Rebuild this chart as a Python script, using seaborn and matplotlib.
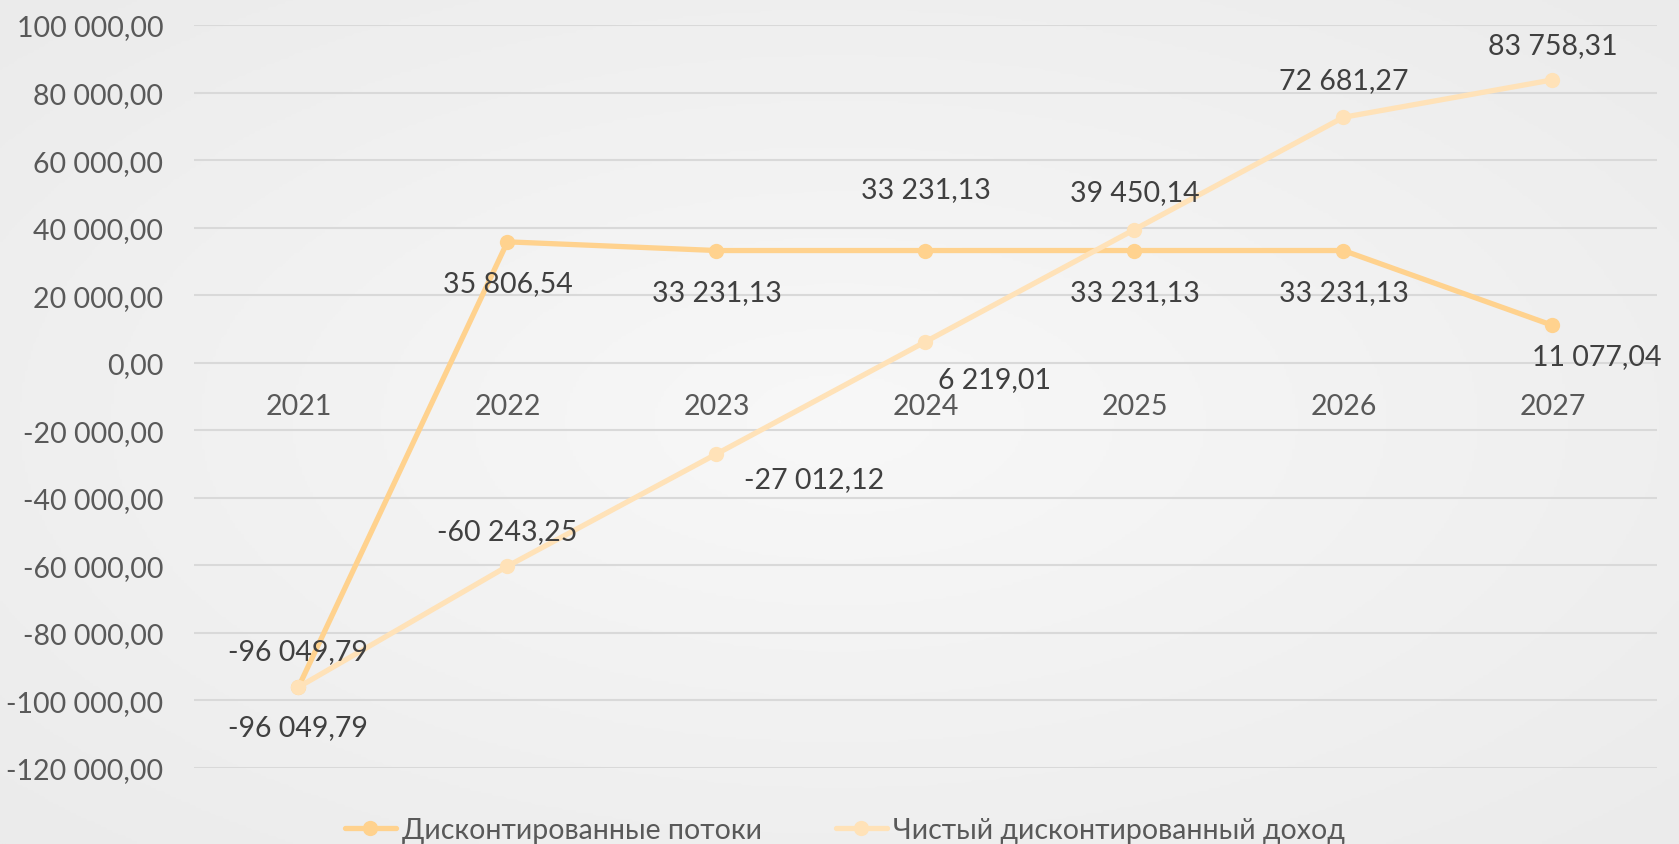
"""Discounted cash flows vs. net discounted income, 2021-2027."""
import numpy as np
import pandas as pd
import seaborn as sns
import matplotlib.pyplot as plt
from matplotlib.colors import LinearSegmentedColormap

YEARS = ["2021", "2022", "2023", "2024", "2025", "2026", "2027"]
SERIES_NAMES = ["Дисконтированные потоки", "Чистый дисконтированный доход"]
DISC_FLOWS = [-96049.79, 35806.54, 33231.13, 33231.13, 33231.13, 33231.13, 11077.04]
NET_INCOME = [-96049.79, -60243.25, -27012.12, 6219.01, 39450.14, 72681.27, 83758.31]
Y_TICKS = list(range(-120000, 100001, 20000))

# label offsets (points) for each data label, as placed in the original
OFFSETS_FLOWS = [(0, 26), (0, -30), (0, -30), (0, 44), (0, -30), (0, -30), (32, -22)]
OFFSETS_INCOME = [(0, -29), (0, 25), (70, -18), (50, -27), (0, 27), (0, 27), (0, 25)]

COLORS = ["#FFD28E", "#FFE2B8"]
FONT = ["Lato", "Open Sans", "DejaVu Sans"]
FS = 20.5


def fmt(v):
    return f"{v:,.2f}".replace(",", " ").replace(".", ",")


sns.set_style("white")
plt.rcParams["font.family"] = FONT

df = pd.DataFrame({
    "year": YEARS * 2,
    "value": DISC_FLOWS + NET_INCOME,
    "series": [SERIES_NAMES[0]] * len(YEARS) + [SERIES_NAMES[1]] * len(YEARS),
})

fig = plt.figure(figsize=(16.79, 8.45), dpi=100)

# radial grey background
bg = fig.add_axes([0, 0, 1, 1], zorder=-10)
yy, xx = np.mgrid[-1:1:300j, -1:1:600j]
rr = np.sqrt(xx ** 2 + yy ** 2) / np.sqrt(2)
cmap = LinearSegmentedColormap.from_list("bg", ["#F8F8F8", "#EBEBEB"])
bg.imshow(rr, cmap=cmap, aspect="auto", extent=[0, 1, 0, 1], vmin=0, vmax=1)
bg.axis("off")

ax = fig.add_axes([0.1155, 0.0899, 0.8714, 0.8793])
ax.patch.set_alpha(0)

sns.lineplot(data=df, x="year", y="value", hue="series", palette=COLORS,
             marker="o", markersize=11, markeredgewidth=0, linewidth=3.8,
             sort=False, ax=ax)

ax.set_ylim(-120000, 100000)
ax.set_xlim(-0.5, len(YEARS) - 0.5)
ax.set_yticks(Y_TICKS)
ax.set_yticklabels([fmt(v) for v in Y_TICKS])
ax.yaxis.grid(True, color="#D9D9D9", linewidth=1.5)
ax.set_axisbelow(True)
for s in ax.spines.values():
    s.set_visible(False)
ax.spines["bottom"].set_position(("data", 0))
ax.tick_params(axis="y", length=0, pad=22, labelsize=FS, labelcolor="#595959")
ax.tick_params(axis="x", length=0, pad=22, labelsize=FS, labelcolor="#595959")
ax.set_xlabel("")
ax.set_ylabel("")

for vals, offs in [(DISC_FLOWS, OFFSETS_FLOWS), (NET_INCOME, OFFSETS_INCOME)]:
    for i, (v, off) in enumerate(zip(vals, offs)):
        ax.annotate(fmt(v), (i, v), xytext=off, textcoords="offset points",
                    ha="center", va="center", fontsize=FS, color="#404040",
                    annotation_clip=False)

handles, labels = ax.get_legend_handles_labels()
ax.legend(handles, labels, loc="center", bbox_to_anchor=(0.503, 0.017),
          bbox_transform=fig.transFigure, ncol=2, frameon=False,
          fontsize=FS, labelcolor="#595959", handlelength=1.8,
          handletextpad=0.2, columnspacing=2.6)

fig.savefig("out.png", dpi=100)
